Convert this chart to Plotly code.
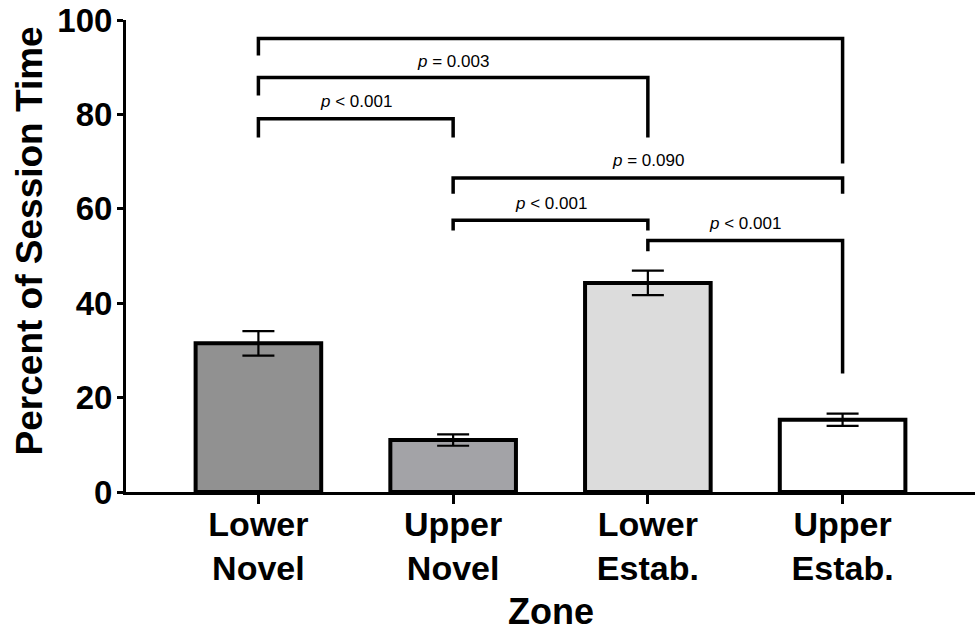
import plotly.graph_objects as go

categories = ["Lower<br>Novel", "Upper<br>Novel", "Lower<br>Estab.", "Upper<br>Estab."]
means = [31.5, 11.0, 44.3, 15.3]
sems = [2.6, 1.2, 2.6, 1.3]
bar_colors = ["#919191", "#a3a3a7", "#dcdcdc", "#ffffff"]

# Comparison brackets: left/right bar index, bracket height, leg ends, label and label height
brk_left = [0, 0, 0, 1, 1, 2]
brk_right = [3, 2, 1, 3, 2, 3]
brk_top = [96.1, 87.8, 79.1, 66.5, 57.6, 53.3]
brk_left_end = [92.5, 84.0, 75.1, 63.2, 55.4, 51.0]
brk_right_end = [69.6, 75.1, 75.1, 63.2, 55.4, 25.1]
brk_text = ["<i>p</i> &lt; 0.001", "<i>p</i> = 0.003", "<i>p</i> &lt; 0.001",
            "<i>p</i> = 0.090", "<i>p</i> &lt; 0.001", "<i>p</i> &lt; 0.001"]
brk_label_y = [100.3, 91.2, 82.7, 70.2, 61.1, 56.8]

FONT = "Liberation Sans, Arial, Helvetica, sans-serif"
xpos = list(range(len(categories)))

fig = go.Figure()
fig.add_trace(go.Bar(
    x=xpos, y=means, width=0.645,
    marker=dict(color=bar_colors, line=dict(color="black", width=4)),
    error_y=dict(type="data", array=sems, visible=True, color="black", thickness=2.2, width=16),
    showlegend=False,
))

shapes = []
annotations = []
for i in range(len(brk_left)):
    xl, xr = xpos[brk_left[i]], xpos[brk_right[i]]
    path = f"M {xl},{brk_left_end[i]} L {xl},{brk_top[i]} L {xr},{brk_top[i]} L {xr},{brk_right_end[i]}"
    shapes.append(dict(type="path", path=path, xref="x", yref="y",
                       line=dict(color="black", width=3.5)))
    annotations.append(dict(x=(xl + xr) / 2, y=brk_label_y[i], xref="x", yref="y",
                            text=brk_text[i], showarrow=False,
                            font=dict(family=FONT, size=17, color="black")))

# axis titles
annotations.append(dict(x=0.5, y=-0.254, xref="paper", yref="paper", yanchor="middle",
                        text="<b>Zone</b>", showarrow=False,
                        font=dict(family=FONT, size=36, color="black")))
annotations.append(dict(x=-0.1142, y=0.531, xref="paper", yref="paper",
                        xanchor="center", yanchor="middle", textangle=-90,
                        text="<b>Percent of Session Time</b>", showarrow=False,
                        font=dict(family=FONT, size=37, color="black")))

fig.update_layout(
    width=980, height=634,
    margin=dict(l=126, r=5, t=20, b=142),
    paper_bgcolor="white", plot_bgcolor="white",
    font=dict(family=FONT, color="black"),
    shapes=shapes, annotations=annotations,
    xaxis=dict(
        range=[-0.68, 3.68], tickvals=xpos, ticktext=categories,
        tickfont=dict(size=34, family=FONT, color="black", weight="bold"),
        showline=True, linecolor="black", linewidth=3,
        ticks="outside", ticklen=9, tickwidth=3, tickcolor="black",
        ticklabelstandoff=-9,
        showgrid=False, zeroline=False, automargin=False,
    ),
    yaxis=dict(
        range=[0, 100], tickvals=[0, 20, 40, 60, 80, 100],
        tickfont=dict(size=33, family=FONT, color="black", weight="bold"),
        showline=True, linecolor="black", linewidth=3,
        ticks="outside", ticklen=6, tickwidth=3, tickcolor="black",
        ticklabelstandoff=-2, ticklabeloverflow="allow",
        showgrid=False, zeroline=False, automargin=False,
    ),
)

# remove the default page margin so the 980x634 figure fills the window exactly
fig.write_html("out.html",
               config={"displayModeBar": False},
               post_script="document.body.style.margin='0px';document.body.style.overflow='hidden';")
